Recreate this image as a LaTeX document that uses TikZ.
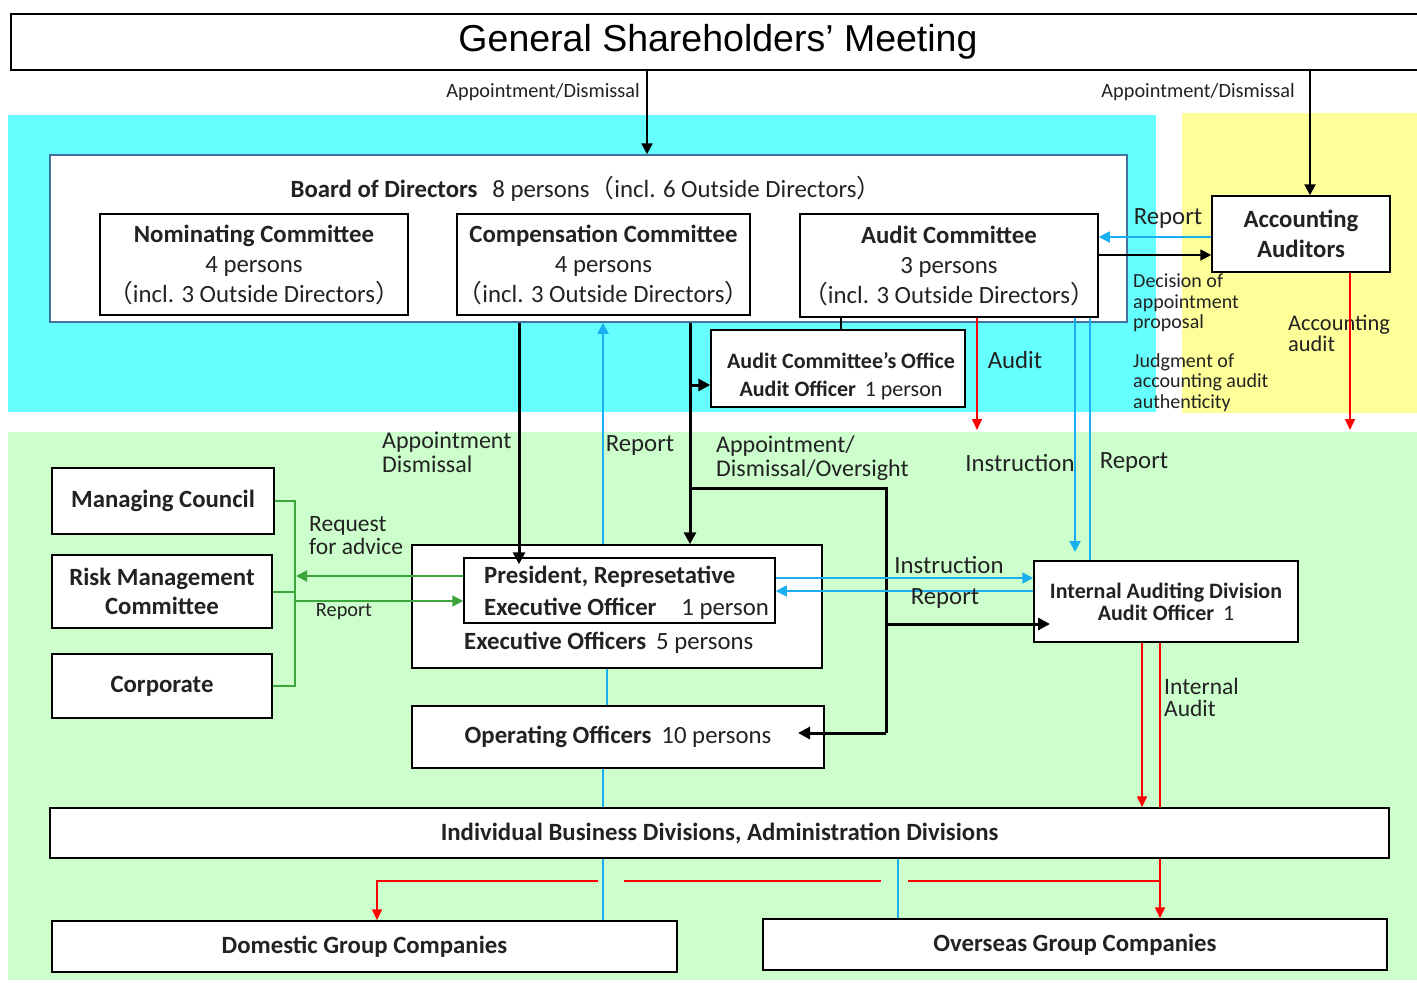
\documentclass[tikz,border=0pt]{standalone}
\usepackage{fontspec}
\setmainfont{Carlito}
\newfontfamily\cjk{Noto Sans CJK JP}
\newfontfamily\titlefont{Liberation Sans}
\usetikzlibrary{arrows.meta}
\definecolor{cyanbg}{HTML}{66FFFF}
\definecolor{yellowbg}{HTML}{FFFF99}
\definecolor{greenbg}{HTML}{CCFFCC}
\definecolor{lblue}{HTML}{1AB0F0}
\definecolor{gline}{HTML}{3CA53C}
\definecolor{bordblue}{HTML}{41719C}
\definecolor{txt}{HTML}{222222}
\newcommand\jlp{{\cjk （}}
\newcommand\jrp{{\cjk ）}}
\begin{document}
\begin{tikzpicture}[x=1pt,y=-1pt,
  box/.style={draw, line width=1.5pt, fill=white, inner sep=0pt, align=center, text=txt},
  lbl/.style={inner sep=0pt, align=left, text=txt},
  f23/.style={font=\fontsize{24.8}{30}\selectfont},
  f22/.style={font=\fontsize{22}{22}\selectfont},
  f19/.style={font=\fontsize{20.3}{20.5}\selectfont},
  blk/.style={draw=black, line width=3pt, -{Triangle[length=12pt,width=12pt]}},
  blkthin/.style={draw=black, line width=1.8pt, -{Triangle[length=11pt,width=11pt]}},
  bl/.style={draw=lblue, line width=1.8pt, -{Triangle[length=11pt,width=11pt]}},
  blline/.style={draw=lblue, line width=1.6pt},
  rd/.style={draw=red, line width=1.6pt, -{Triangle[length=11pt,width=10pt]}},
  rdline/.style={draw=red, line width=1.6pt},
  gr/.style={draw=gline, line width=2pt},
  grarr/.style={draw=gline, line width=2pt, -{Triangle[length=11pt,width=11pt]}},
]
\useasboundingbox (0,0) rectangle (1417,983);
\fill[white] (0,0) rectangle (1417,983);
\fill[cyanbg] (8,115) rectangle (1156,412);
\fill[yellowbg] (1182,113) rectangle (1417,413);
\fill[greenbg] (8,432) rectangle (1417,980);

% column / row coordinates
\foreach \c in {295,296,377,464,519,598,603,607,624,647,690,798,841,881,886,898,908,977,1050,1075,1090,1142,1160,1310,1350}
  {\coordinate (c\c) at (\c,0);}
\foreach \r in {237,255,385,430,488,552,576,578,591,601,624,733,881}
  {\coordinate (r\r) at (0,\r);}

% title
\node[box, line width=2pt, minimum width=1440pt, minimum height=56pt, anchor=north west] (gsm) at (10,13) {};
\node[lbl, font=\titlefont\fontsize{37.5}{40}\selectfont, text=black] (gsmlbl) at (718,42) {General Shareholders’ Meeting};

% board
\node[box, draw=bordblue, minimum width=1077pt, minimum height=167pt] (board) at (588.5,238.5) {};
\node[lbl, f23] (boardlbl) at (586,189) {\textbf{Board of Directors}\hspace{0.6em}8 persons\jlp incl. 6 Outside Directors\jrp};
\node[box, f23, minimum width=308pt, minimum height=101pt] (nom) at (254,264.5) {\textbf{Nominating Committee}\\4 persons\\\jlp incl. 3 Outside Directors\jrp};
\node[box, f23, minimum width=293pt, minimum height=101pt] (comp) at (603.5,264.5) {\textbf{Compensation Committee}\\4 persons\\\jlp incl. 3 Outside Directors\jrp};
\node[box, f23, minimum width=298pt, minimum height=103pt] (audit) at (949,265.5) {\textbf{Audit Committee}\\3 persons\\\jlp incl. 3 Outside Directors\jrp};
\node[box, f23, minimum width=178pt, minimum height=76pt] (acc) at (1301,234) {\textbf{Accounting}\\\textbf{Auditors}};
\node[box, minimum width=254pt, minimum height=77pt] (aco) at (838,368.5) {};
\node[lbl, align=center, font=\fontsize{22}{28}\selectfont] (acolbl) at (841,376) {\textbf{Audit Committee's Office}\\\textbf{Audit Officer}\hspace{0.4em}1 person};

% executive side
\node[box, minimum width=410pt, minimum height=123pt] (exec) at (617,606.5) {};
\node[box, minimum width=311pt, minimum height=65pt] (pres) at (619.5,590.5) {};
\node[lbl, anchor=west, font=\fontsize{24.8}{32}\selectfont] (preslbl) at (484,593) {\textbf{President, Represetative}\\\textbf{Executive Officer}\hspace{1em}1 person};
\node[lbl, f23, anchor=west] (execlbl) at (464,643) {\textbf{Executive Officers}\hspace{0.4em}5 persons};
\node[box, f23, minimum width=412pt, minimum height=62pt] (opoff) at (618,737) {\textbf{Operating Officers}\hspace{0.4em}10 persons};
\node[box, f22, minimum width=264pt, minimum height=81pt] (iad) at (1166,601.5) {\textbf{Internal Auditing Division}\\\textbf{Audit Officer}\hspace{0.4em}1};

% left boxes
\node[box, f23, minimum width=222pt, minimum height=66pt] (mc) at (163,501) {\textbf{Managing Council}};
\node[box, font=\fontsize{24.8}{29}\selectfont, minimum width=220pt, minimum height=73pt] (rmc) at (162,591.5) {\textbf{Risk Management}\\\textbf{Committee}};
\node[box, f23, minimum width=220pt, minimum height=64pt] (corp) at (162,686) {\textbf{Corporate}};

% bottom
\node[box, f23, minimum width=1339pt, minimum height=50pt] (ibd) at (719.5,833) {\textbf{Individual Business Divisions, Administration Divisions}};
\node[box, f23, minimum width=625pt, minimum height=51pt] (dom) at (364.5,946.5) {\textbf{Domestic Group Companies}};
\node[box, f23, minimum width=624pt, minimum height=51pt] (ovs) at (1075,944.5) {\textbf{Overseas Group Companies}};

% top connectors
\draw[blkthin, line width=2.4pt] (c647 |- gsm.south) -- (c647 |- board.north);
\draw[blkthin, line width=2.4pt] (c1310 |- gsm.south) -- (c1310 |- acc.north);
\node[lbl, f19, anchor=east] (ad1) at (640,92) {Appointment/Dismissal};
\node[lbl, f19, anchor=east] (ad2) at (1295,92) {Appointment/Dismissal};

% audit committee <-> accounting auditors
\draw[bl] (acc.west |- r237) -- (audit.east |- r237);
\draw[blkthin] (audit.east |- r255) -- (acc.west |- r255);
\node[lbl, f23] (rep1) at (1168,219) {Report};
\node[lbl, anchor=north west, font=\fontsize{20}{20.5}\selectfont] (dec) at (1133,274) {Decision of\\appointment\\proposal};
\node[lbl, anchor=north west, font=\fontsize{20}{20.5}\selectfont] (judg) at (1133,353) {Judgment of\\accounting audit\\authenticity};
\node[lbl, anchor=north west, font=\fontsize{22.4}{21}\selectfont] (accaud) at (1288,315) {Accounting\\audit};
\coordinate (accend) at (1350,430);
\draw[rd] (c1350 |- acc.south) -- (accend);

% audit committee downwards
\draw[draw=black, line width=1.6pt] (c841 |- audit.south) -- (c841 |- aco.north);
\coordinate (audend) at (977,430);
\draw[rd] (c977 |- audit.south) -- (audend);
\node[lbl, f23] (audlbl) at (1015,360) {Audit};
\draw[bl] (c1075 |- audit.south) -- (c1075 |- r552);
\draw[blline] (c1090 |- audit.south) -- (c1090 |- iad.north);
\node[lbl, f23] (ins1) at (1020,463) {Instruction};
\node[lbl, f23] (rep2) at (1134,463) {Report};

% board -> president / executives
\draw[blk, shorten >=-7pt] (c519 |- board.south) -- (c519 |- pres.north);
\node[lbl, anchor=north west, font=\fontsize{24}{24}\selectfont] (apd) at (382,432) {Appointment\\Dismissal};
\draw[bl] (c603 |- exec.north) -- (c603 |- board.south);
\node[lbl, f23] (rep3) at (640,446) {Report};
\draw[blk] (c690 |- board.south) -- (c690 |- exec.north);
\draw[blk] (c690 |- r385) -- (aco.west |- r385);
\draw[draw=black, line width=3pt] (c690 |- r488) -| (c886 |- r733);
\draw[blk] (c886 |- r733) -- (c798 |- r733);
\draw[blk] (c886 |- r624) -- (c1050 |- r624);
\node[lbl, anchor=north west, font=\fontsize{24}{24}\selectfont] (ado) at (716,436) {Appointment/\\Dismissal/Oversight};

% president <-> internal audit
\draw[bl] (pres.east |- r578) -- (iad.west |- r578);
\draw[bl] (iad.west |- r591) -- (pres.east |- r591);
\node[lbl, f23] (ins2) at (949,565) {Instruction};
\node[lbl, f23] (rep4) at (945,599) {Report};

% internal audit downwards
\draw[rd] (c1142 |- iad.south) -- (c1142 |- ibd.north);
\draw[rdline] (c1160 |- iad.south) -- (c1160 |- ibd.north);
\node[lbl, anchor=north west, font=\fontsize{23.5}{22}\selectfont] (ia) at (1164,678) {Internal\\Audit};

% blue thin vertical links
\draw[blline] (c607 |- exec.south) -- (c607 |- opoff.north);
\draw[blline] (c603 |- opoff.south) -- (c603 |- ibd.north);
\draw[blline] (c603 |- ibd.south) -- (c603 |- dom.north);
\draw[blline] (c898 |- ibd.south) -- (c898 |- ovs.north);

% red to group companies
\draw[rd] (c1160 |- ibd.south) -- (c1160 |- ovs.north);
\draw[rdline] (c1160 |- r881) -- (c908 |- r881);
\draw[rdline] (c881 |- r881) -- (c624 |- r881);
\draw[rd] (c598 |- r881) -| (c377 |- dom.north);

% green links
\draw[gr] (mc.east) -| (c295 |- corp.east) -- (corp.east);
\draw[gr] (rmc.east) -- (c295 |- rmc.east);
\draw[grarr] (pres.west |- r576) -- (c296 |- r576);
\draw[grarr] (c295 |- r601) -- (pres.west |- r601);
\node[lbl, anchor=south west, font=\fontsize{23.5}{20}\selectfont] (rfa1) at (309,535) {Request};
\node[lbl, anchor=south west, font=\fontsize{23.5}{20}\selectfont] (rfa2) at (309,555) {for advice};
\node[lbl, f19] (rep5) at (344,612) {Report};
\end{tikzpicture}
\end{document}
